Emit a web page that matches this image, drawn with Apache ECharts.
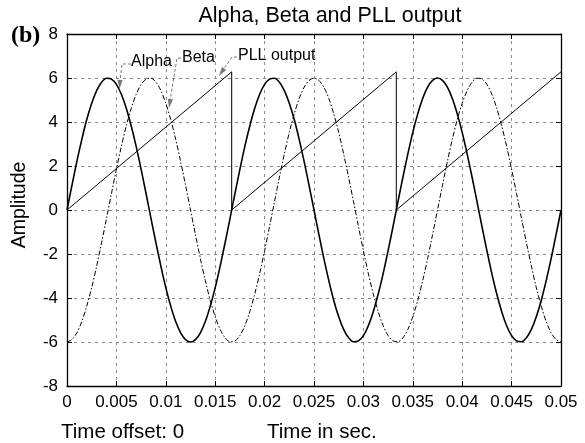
<!DOCTYPE html>
<html>
<head>
<meta charset="utf-8">
<script src="https://cdn.jsdelivr.net/npm/echarts@6/dist/echarts.min.js"></script>
<style>
html,body{margin:0;padding:0;background:#fff;}
#chart{width:585px;height:443px;}
</style>
</head>
<body>
<div id="chart"></div>
<script>
// Time samples (s)
var time = [0,0.0005,0.001,0.0015,0.002,0.0025,0.003,0.0035,0.004,0.0045,
  0.005,0.0055,0.006,0.0065,0.007,0.0075,0.008,0.0085,0.009,0.0095,
  0.01,0.0105,0.011,0.0115,0.012,0.0125,0.013,0.0135,0.014,0.0145,
  0.015,0.0155,0.016,0.0165,0.017,0.0175,0.018,0.0185,0.019,0.0195,
  0.02,0.0205,0.021,0.0215,0.022,0.0225,0.023,0.0235,0.024,0.0245,
  0.025,0.0255,0.026,0.0265,0.027,0.0275,0.028,0.0285,0.029,0.0295,
  0.03,0.0305,0.031,0.0315,0.032,0.0325,0.033,0.0335,0.034,0.0345,
  0.035,0.0355,0.036,0.0365,0.037,0.0375,0.038,0.0385,0.039,0.0395,
  0.04,0.0405,0.041,0.0415,0.042,0.0425,0.043,0.0435,0.044,0.0445,
  0.045,0.0455,0.046,0.0465,0.047,0.0475,0.048,0.0485,0.049,0.0495,0.05];

var alpha = [0,1.12,2.21,3.21,4.11,4.85,5.43,5.81,5.99,5.95,
  5.71,5.26,4.62,3.82,2.89,1.85,0.75,-0.38,-1.49,-2.55,
  -3.53,-4.37,-5.07,-5.58,-5.89,-6.00,-5.89,-5.58,-5.07,-4.37,
  -3.53,-2.55,-1.49,-0.38,0.75,1.85,2.89,3.82,4.62,5.26,
  5.71,5.95,5.99,5.81,5.43,4.85,4.11,3.21,2.21,1.12,
  0,-1.12,-2.21,-3.21,-4.11,-4.85,-5.43,-5.81,-5.99,-5.95,
  -5.71,-5.26,-4.62,-3.82,-2.89,-1.85,-0.75,0.38,1.49,2.55,
  3.53,4.37,5.07,5.58,5.89,6.00,5.89,5.58,5.07,4.37,
  3.53,2.55,1.49,0.38,-0.75,-1.85,-2.89,-3.82,-4.62,-5.26,
  -5.71,-5.95,-5.99,-5.81,-5.43,-4.85,-4.11,-3.21,-2.21,-1.12,0];

var beta = [-6.00,-5.89,-5.58,-5.07,-4.37,-3.53,-2.55,-1.49,-0.38,0.75,
  1.85,2.89,3.82,4.62,5.26,5.71,5.95,5.99,5.81,5.43,
  4.85,4.11,3.21,2.21,1.12,0.00,-1.12,-2.21,-3.21,-4.11,
  -4.85,-5.43,-5.81,-5.99,-5.95,-5.71,-5.26,-4.62,-3.82,-2.89,
  -1.85,-0.75,0.38,1.49,2.55,3.53,4.37,5.07,5.58,5.89,
  6.00,5.89,5.58,5.07,4.37,3.53,2.55,1.49,0.38,-0.75,
  -1.85,-2.89,-3.82,-4.62,-5.26,-5.71,-5.95,-5.99,-5.81,-5.43,
  -4.85,-4.11,-3.21,-2.21,-1.12,0.00,1.12,2.21,3.21,4.11,
  4.85,5.43,5.81,5.99,5.95,5.71,5.26,4.62,3.82,2.89,
  1.85,0.75,-0.38,-1.49,-2.55,-3.53,-4.37,-5.07,-5.58,-5.89,-6.00];

// PLL output (sawtooth angle) breakpoints
var pllTime  = [0, 0.01667, 0.01667, 0.03333, 0.03333, 0.05];
var pllValue = [0, 6.28, 0, 6.28, 0, 6.28];

function pairs(xs, ys){ return xs.map(function(x,i){ return [x, ys[i]]; }); }

var FONT = '"Liberation Sans", Arial, Helvetica, sans-serif';
var chart = echarts.init(document.getElementById('chart'), null, {renderer:'canvas'});

var gridLine = {show:true, lineStyle:{color:'#8a8a8a', type:[3,4], width:1}};
var axLine = {show:true, onZero:false, lineStyle:{color:'#000', width:1.3}};
var tick = {show:true, inside:true, length:5, lineStyle:{color:'#000', width:1}};

var gray = '#777';
function arrowHead(tx, ty, fx, fy){
  var dx = tx - fx, dy = ty - fy, L = Math.sqrt(dx*dx+dy*dy);
  dx/=L; dy/=L;
  var bx = tx - 9*dx, by = ty - 9*dy, px = -dy*2.6, py = dx*2.6;
  return {type:'polygon', shape:{points:[[tx,ty],[bx+px,by+py],[bx-px,by-py]]}, style:{fill:gray}, z:100};
}
function leader(pts){
  return {type:'polyline', shape:{points:pts}, style:{stroke:gray, lineWidth:1, lineDash:[3,2], fill:null}, z:100};
}
function txt(x,y,s,font,align){
  return {type:'text', z:100, style:{text:s, x:x, y:y, fill:'#000', font:font, textAlign:align||'left', textVerticalAlign:'middle'}};
}

chart.setOption({
  animation:false,
  backgroundColor:'#fff',
  grid:{left:67, right:24, top:34, bottom:57, show:false},
  xAxis:[{
    type:'value', min:0, max:0.05, interval:0.005,
    axisLine:axLine, axisTick:tick, splitLine:gridLine,
    axisLabel:{color:'#000', fontSize:17, fontFamily:FONT, margin:8,
      formatter:function(v){ return String(+v.toFixed(3)); }}
  },{
    type:'value', position:'top', min:0, max:0.05, interval:0.005,
    axisLine:axLine, axisTick:tick, splitLine:{show:false}, axisLabel:{show:false}
  }],
  yAxis:[{
    type:'value', min:-8, max:8, interval:2,
    axisLine:axLine, axisTick:tick, splitLine:gridLine,
    axisLabel:{color:'#000', fontSize:17, fontFamily:FONT, margin:9}
  },{
    type:'value', position:'right', min:-8, max:8, interval:2,
    axisLine:axLine, axisTick:tick, splitLine:{show:false}, axisLabel:{show:false}
  }],
  series:[
    {name:'Alpha', type:'line', data:pairs(time, alpha), smooth:0.3, showSymbol:false,
      lineStyle:{color:'#000', width:1.6}, z:5},
    {name:'Beta', type:'line', data:pairs(time, beta), smooth:0.3, showSymbol:false,
      lineStyle:{color:'#000', width:1, type:[5,2,1.5,2]}, z:4},
    {name:'PLL output', type:'line', data:pairs(pllTime, pllValue), showSymbol:false,
      lineStyle:{color:'#000', width:1}, z:6}
  ],
  graphic:[
    txt(330, 16, 'Alpha, Beta and PLL output', '21.5px '+FONT, 'center'),
    txt(11, 36, '(b)', 'bold 24px "Liberation Serif", "Times New Roman", serif', 'left'),
    {type:'text', rotation:Math.PI/2, x:20, y:205, z:100, style:{text:'Amplitude', fill:'#000', font:'19.5px '+FONT, textAlign:'center', textVerticalAlign:'middle'}},
    txt(61, 432, 'Time offset: 0', '20.5px '+FONT, 'left'),
    txt(267, 432, 'Time in sec.', '20.5px '+FONT, 'left'),
    // callouts
    txt(131, 62, 'Alpha', '16px '+FONT, 'left'),
    leader([[131,64],[122,64],[120,82]]),
    arrowHead(119.5, 89, 121, 64),
    txt(182, 58, 'Beta', '16px '+FONT, 'left'),
    leader([[181,58],[177,58],[170,101]]),
    arrowHead(169, 108, 177, 58),
    txt(238, 56, 'PLL output', '16px '+FONT, 'left'),
    leader([[237,57],[232,57],[223,70]]),
    arrowHead(219, 76, 232, 57)
  ]
});
</script>
</body>
</html>
